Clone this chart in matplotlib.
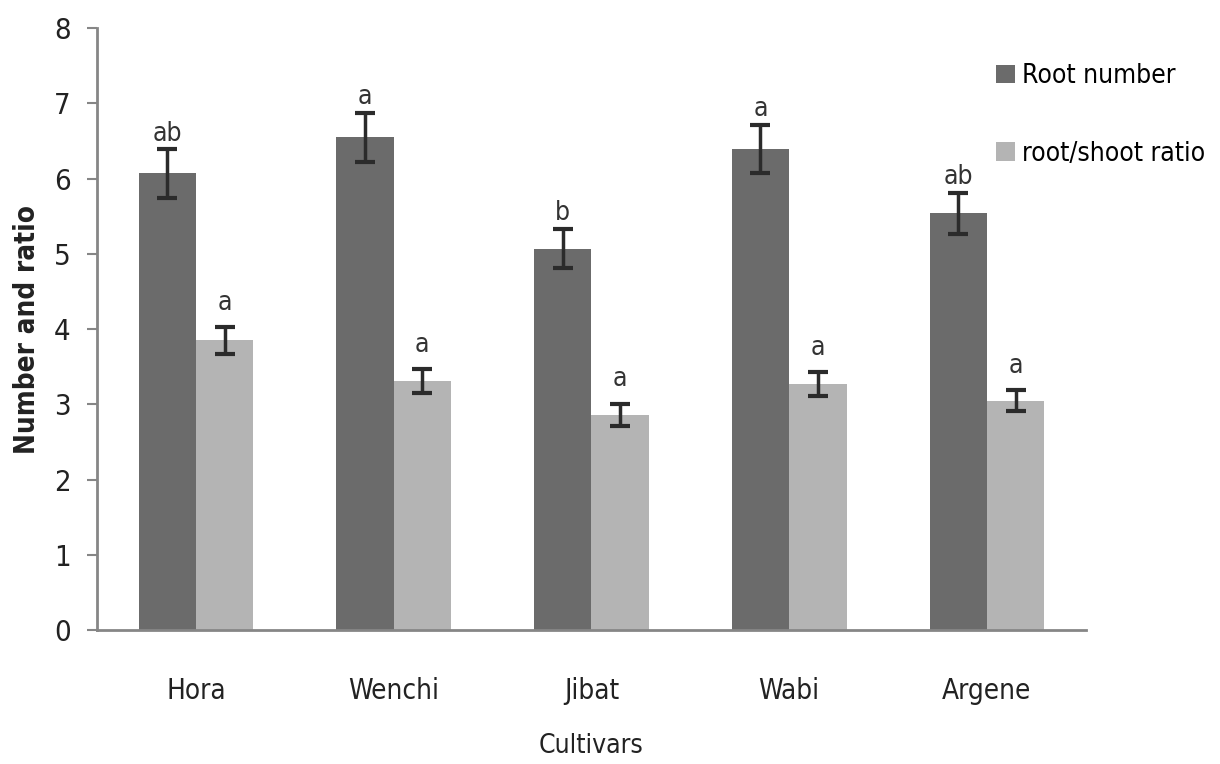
import matplotlib
matplotlib.use("Agg")
import matplotlib.pyplot as plt
import numpy as np

cultivars = ["Hora", "Wenchi", "Jibat", "Wabi", "Argene"]
root_number = [6.07, 6.55, 5.07, 6.40, 5.54]
root_number_err = [0.32, 0.33, 0.26, 0.32, 0.27]
root_number_letters = ["ab", "a", "b", "a", "ab"]
ratio = [3.85, 3.31, 2.86, 3.27, 3.05]
ratio_err = [0.18, 0.16, 0.15, 0.16, 0.14]
ratio_letters = ["a", "a", "a", "a", "a"]
yticks = [0, 1, 2, 3, 4, 5, 6, 7, 8]

plt.rcParams['font.family'] = ['DejaVu Sans']
plt.rcParams['font.stretch'] = 'condensed'

fig = plt.figure(figsize=(12.2, 7.64), dpi=100)
ax = fig.add_axes([0.0795, 0.1754, 0.8105, 0.7876])

x = np.arange(len(cultivars))
w = 0.29
dark = "#6b6b6b"
light = "#b4b4b4"
b1 = ax.bar(x - w/2, root_number, w, color=dark, label="Root number")
b2 = ax.bar(x + w/2, ratio, w, color=light, label="root/shoot ratio")
ekw = dict(fmt="none", ecolor="#2b2b2b", elinewidth=2.5, capsize=7, capthick=3)
ax.errorbar(x - w/2, root_number, yerr=root_number_err, **ekw)
ax.errorbar(x + w/2, ratio, yerr=ratio_err, **ekw)

for xi, v, e, t in zip(x - w/2, root_number, root_number_err, root_number_letters):
    ax.annotate(t, (xi, v + e), xytext=(0, 2), textcoords="offset points",
                ha="center", va="bottom", fontsize=19, color="#333333")
for xi, v, e, t in zip(x + w/2, ratio, ratio_err, ratio_letters):
    ax.annotate(t, (xi, v + e), xytext=(0, 8), textcoords="offset points",
                ha="center", va="bottom", fontsize=19, color="#333333")

ax.set_xlim(-0.5, len(cultivars) - 0.5)
ax.set_ylim(0, 8)
ax.set_yticks(yticks)
ax.set_yticklabels([str(t) for t in yticks], fontsize=21, color="#222222")
ax.set_xticks(x)
ax.set_xticklabels(cultivars, fontsize=20, color="#222222")
ax.tick_params(axis="x", length=0, pad=34)
ax.tick_params(axis="y", length=7, width=1.5, color="#868686", pad=12, direction="out")
for s in ["top", "right"]:
    ax.spines[s].set_visible(False)
for s in ["left", "bottom"]:
    ax.spines[s].set_color("#868686")
    ax.spines[s].set_linewidth(2)

ax.set_ylabel("Number and ratio", fontsize=20, fontweight="bold", labelpad=9, color="#222222")
ax.set_xlabel("Cultivars", fontsize=19, labelpad=20, color="#222222")

leg = fig.legend(handles=[b1, b2], loc="upper left", bbox_to_anchor=(0.797, 0.948),
                 frameon=False, fontsize=19, handlelength=0.7, handleheight=0.7,
                 handletextpad=0.3, labelspacing=1.95)

fig.savefig("out.png", dpi=100)
